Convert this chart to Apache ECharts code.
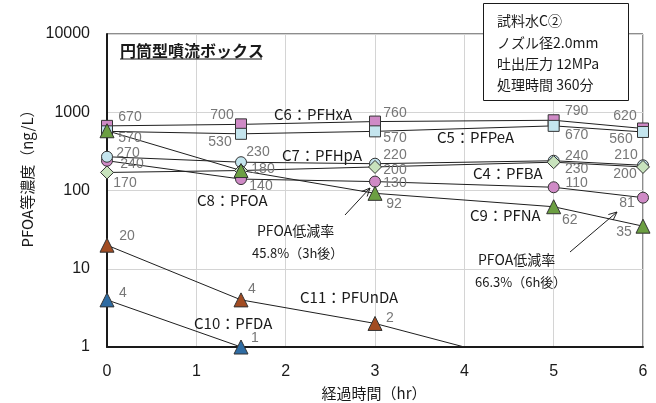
<!DOCTYPE html>
<html>
<head>
<meta charset="utf-8">
<script src="https://cdn.jsdelivr.net/npm/echarts@6/dist/echarts.min.js"></script>
<style>
  html, body { margin: 0; padding: 0; background: #fff; }
  #chart { width: 656px; height: 403px; }
</style>
</head>
<body>
<div id="chart"></div>
<script>
// Sampling times (hours)
const hours = [0, 1.5, 3, 5, 6];

// Concentrations (ng/L) per compound
const pfhxa  = [670, 700, 760, 790, 620];   // C6
const pfpea  = [570, 530, 570, 670, 560];   // C5
const pfoa   = [240, 140, 130, 110, 81];    // C8
const pfhpa  = [270, 230, 220, 240, 210];   // C7
const pfba   = [170, 180, 200, 230, 200];   // C4
const pfna   = [580, 180, 92, 62, 35];      // C9
const pfunda = [20, 4, 2, 0.5, null];       // C11
const pfda   = [4, 1, null, null, null];    // C10

// Axis ticks
const yTicks = [1, 10, 100, 1000, 10000];
const xTicks = [0, 1, 2, 3, 4, 5, 6];

// Value-label offsets (px from the marker centre); null = no label
const offC6  = [[23, -9], [-19, -9], [20, -8], [23, -9], [-18, -12]];
const offC5  = [[23, 7], [-21, 8], [20, 7], [23, 9], [-22, 7]];
const offC8  = [[25, 3], [20, 7], [20, 2], [23, -4], [-16, 5]];
const offC7  = [[21, -4], [17, -10], [20, -9], [23, -5], [-17, -10]];
const offC4  = [[18, 11], [22, -1], [20, 3], [23, 7], [-18, 7]];
const offC9  = [null, null, [19, 11], [16, 13], [-19, 6]];
const offC11 = [[20, -9], [11, -11], [15, -5], null, null];
const offC10 = [[16, -7], [14, -9], null, null, null];

const NUM_FONT = '"Liberation Sans", "Noto Sans CJK JP", sans-serif';
const JP_FONT = '"Noto Sans CJK JP", "Liberation Sans", sans-serif';

function makeSeries(name, values, offsets, symbol, size, fill) {
  return {
    name: name,
    type: 'line',
    symbol: symbol,
    symbolSize: size,
    clip: true,
    connectNulls: false,
    lineStyle: { color: '#1f1f1f', width: 1 },
    itemStyle: { color: fill, borderColor: '#333', borderWidth: 1 },
    label: {
      show: true,
      position: 'inside',
      color: '#777',
      fontFamily: NUM_FONT,
      fontSize: 14,
      formatter: p => String(p.value[1])
    },
    emphasis: { disabled: true },
    data: hours.map((h, i) => {
      const off = offsets[i];
      return {
        value: [h, values[i]],
        label: off ? { show: true, offset: off } : { show: false }
      };
    })
  };
}

function arrow(x1, y1, x2, y2) {
  const a = Math.atan2(y2 - y1, x2 - x1);
  const L = 9, w = 0.42;
  return [
    { type: 'line', shape: { x1, y1, x2, y2 }, style: { stroke: '#1f1f1f', lineWidth: 1 }, z: 50 },
    {
      type: 'polyline',
      shape: { points: [
        [x2 - L * Math.cos(a - w), y2 - L * Math.sin(a - w)],
        [x2, y2],
        [x2 - L * Math.cos(a + w), y2 - L * Math.sin(a + w)]
      ] },
      style: { stroke: '#1f1f1f', lineWidth: 1, fill: null },
      z: 50
    }
  ];
}

function txt(x, y, text, size, opts) {
  opts = opts || {};
  return {
    type: 'text',
    x: x, y: y,
    rotation: opts.rotation || 0,
    z: 60,
    style: {
      text: text,
      font: (opts.bold ? 'bold ' : '') + size + 'px ' + JP_FONT,
      fill: opts.color || '#1a1a1a',
      textAlign: opts.align || 'left',
      textVerticalAlign: 'middle'
    }
  };
}

const chart = echarts.init(document.getElementById('chart'), null, { renderer: 'canvas' });

const graphics = [
  // Title with underline
  txt(120, 51, '円筒型噴流ボックス', 16, { bold: true }),
  { type: 'line', shape: { x1: 120, y1: 59, x2: 262, y2: 59 }, style: { stroke: '#1a1a1a', lineWidth: 1.2 }, z: 60 },

  // Condition box
  { type: 'rect', shape: { x: 483.5, y: 3.5, width: 145, height: 97 },
    style: { fill: '#fff', stroke: '#1a1a1a', lineWidth: 1 }, z: 55 },
  txt(497, 21, '試料水C②', 14),
  txt(497, 43, 'ノズル径2.0mm', 14),
  txt(497, 64, '吐出圧力 12MPa', 14),
  txt(497, 85, '処理時間 360分', 14),

  // Compound names
  txt(274, 114, 'C6：PFHxA', 15),
  txt(437, 137, 'C5：PFPeA', 15),
  txt(282, 155, 'C7：PFHpA', 15),
  txt(473, 173, 'C4：PFBA', 15),
  txt(197, 200, 'C8：PFOA', 15),
  txt(470, 215, 'C9：PFNA', 15),
  txt(300, 297, 'C11：PFUnDA', 15),
  txt(194, 323, 'C10：PFDA', 15),

  // Reduction-rate notes
  txt(257, 231, 'PFOA低減率', 14),
  txt(252, 253, '45.8%（3h後）', 13),
  txt(478, 260, 'PFOA低減率', 14),
  txt(475, 282, '66.3%（6h後）', 13),

  // Axis titles
  txt(27, 175, 'PFOA等濃度（ng/L）', 15, { rotation: Math.PI / 2, align: 'center' }),
  txt(374, 393, '経過時間（hr）', 15, { align: 'center' })
].concat(arrow(345, 215, 370, 188), arrow(570, 252, 617, 212));

chart.setOption({
  animation: false,
  backgroundColor: '#fff',
  grid: {
    left: 107, right: 13, top: 34, bottom: 56,
    show: true, borderColor: '#1a1a1a', borderWidth: 1, backgroundColor: 'transparent'
  },
  xAxis: {
    type: 'value',
    min: xTicks[0], max: xTicks[xTicks.length - 1], interval: 1,
    axisLine: { show: true, onZero: false, lineStyle: { color: '#1a1a1a', width: 2 } },
    axisTick: { show: false },
    axisLabel: { color: '#1a1a1a', fontFamily: NUM_FONT, fontSize: 16, margin: 17 },
    splitLine: { show: true, lineStyle: { color: '#d4d4d4', width: 1 } }
  },
  yAxis: {
    type: 'log',
    logBase: 10,
    min: yTicks[0], max: yTicks[yTicks.length - 1],
    axisLine: { show: true, onZero: false, lineStyle: { color: '#1a1a1a', width: 2 } },
    axisTick: { show: false },
    axisLabel: { color: '#1a1a1a', fontFamily: NUM_FONT, fontSize: 16, margin: 17,
      formatter: v => String(Math.round(v)) },
    splitLine: { show: true, lineStyle: { color: '#d4d4d4', width: 1 } }
  },
  series: [
    makeSeries('C6:PFHxA', pfhxa, offC6, 'rect', 11, '#cf8ac6'),
    makeSeries('C5:PFPeA', pfpea, offC5, 'rect', 11, '#c4e5ee'),
    makeSeries('C8:PFOA', pfoa, offC8, 'circle', 11, '#cf8ac6'),
    makeSeries('C7:PFHpA', pfhpa, offC7, 'circle', 11, '#c4e5ee'),
    makeSeries('C4:PFBA', pfba, offC4, 'diamond', 13, '#c8e3bd'),
    makeSeries('C9:PFNA', pfna, offC9, 'triangle', 14, '#6c9f42'),
    makeSeries('C11:PFUnDA', pfunda, offC11, 'triangle', 14, '#a24c22'),
    makeSeries('C10:PFDA', pfda, offC10, 'triangle', 14, '#2f6ca3')
  ],
  graphic: graphics
});
</script>
</body>
</html>
